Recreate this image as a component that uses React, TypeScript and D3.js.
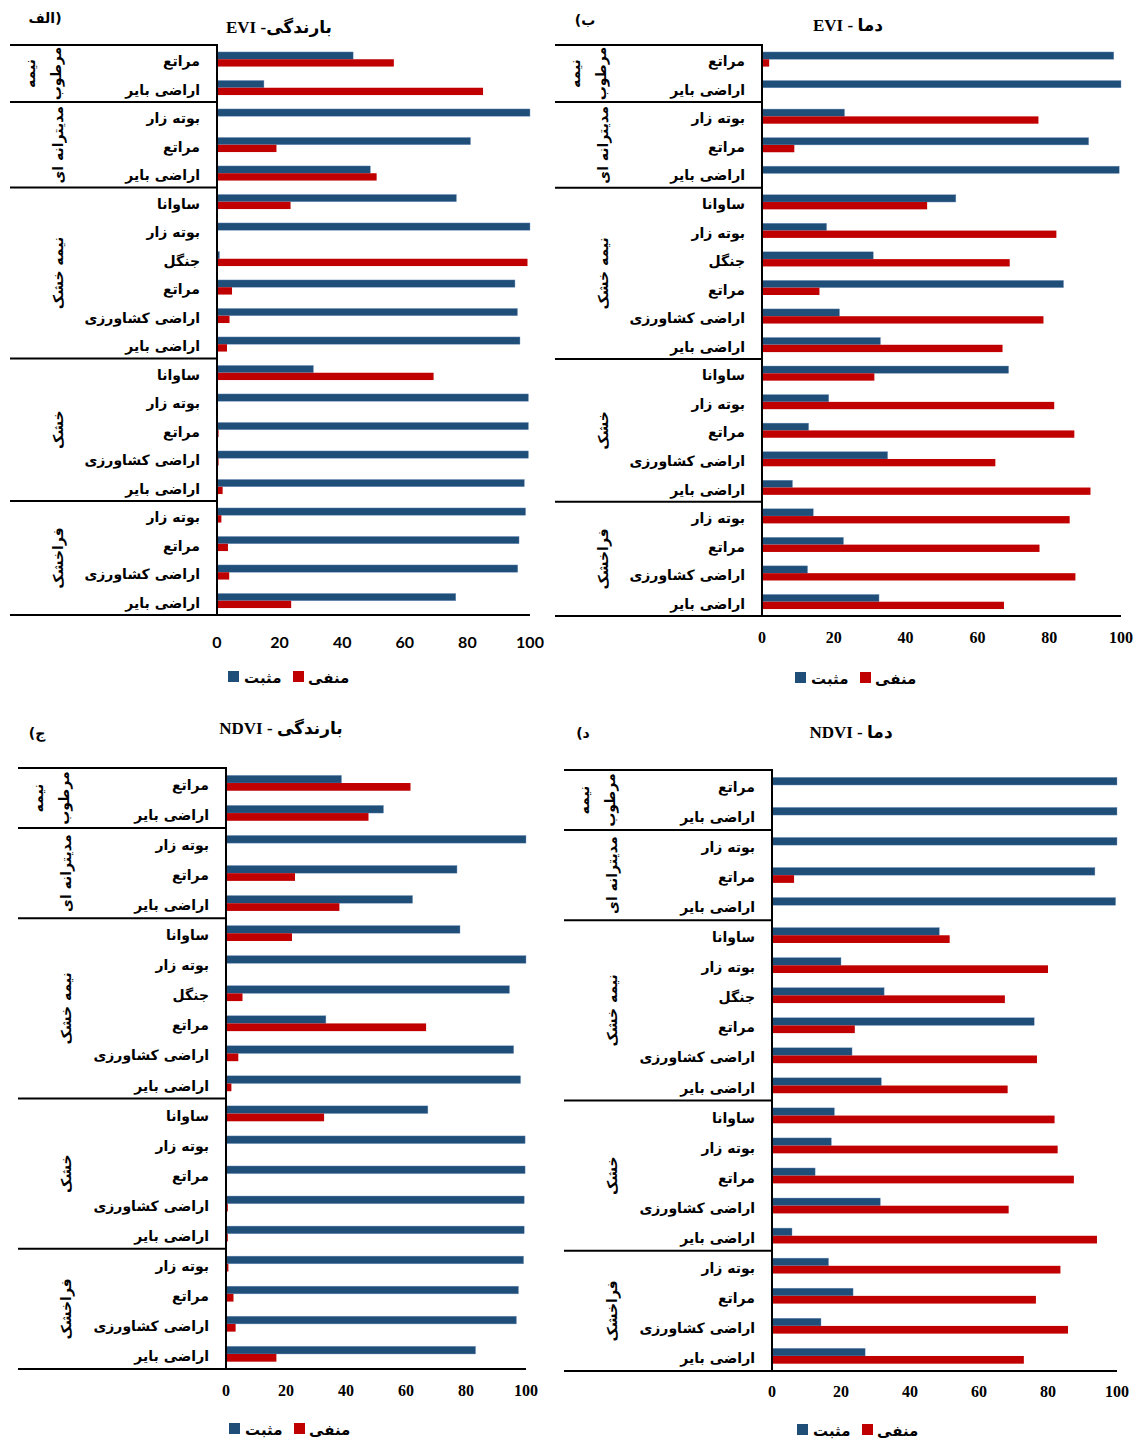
import React from 'react';
import * as d3 from 'd3';

const rowLabels = ['مراتع', 'اراضی بایر', 'بوته زار', 'مراتع', 'اراضی بایر', 'ساوانا', 'بوته زار', 'جنگل', 'مراتع', 'اراضی کشاورزی', 'اراضی بایر', 'ساوانا', 'بوته زار', 'مراتع', 'اراضی کشاورزی', 'اراضی بایر', 'بوته زار', 'مراتع', 'اراضی کشاورزی', 'اراضی بایر'];
const groupLines = [['نیمه', 'مرطوب'], ['مدیترانه ای'], ['نیمه خشک'], ['خشک'], ['فراخشک']];
const groupSizes = [2, 3, 6, 5, 4];
const xTicks = [0, 20, 40, 60, 80, 100];
const legendLabels = ['مثبت', 'منفی'];

const evRainPos = [43.5, 15, 100, 81, 49, 76.5, 100, 0.8, 95.2, 96, 96.8, 30.8, 99.5, 99.5, 99.5, 98.2, 98.6, 96.5, 96.1, 76.3];
const evRainNeg = [56.5, 85, 0, 19, 51, 23.5, 0, 99.2, 4.8, 4, 3.2, 69.2, 0, 0.5, 0.5, 1.8, 1.4, 3.5, 3.9, 23.7];
const evTempPos = [98, 100, 23, 91, 99.5, 54, 18, 31, 84, 21.6, 33, 68.7, 18.6, 13, 35, 8.5, 14.3, 22.7, 12.7, 32.6];
const evTempNeg = [2, 0, 77, 9, 0, 46, 82, 69, 16, 78.4, 67, 31.3, 81.4, 87, 65, 91.5, 85.7, 77.3, 87.3, 67.4];
const ndRainPos = [38.5, 52.5, 100, 77, 62.2, 78, 100, 94.5, 33.3, 95.9, 98.2, 67.3, 99.7, 99.7, 99.4, 99.4, 99.2, 97.5, 96.8, 83.2];
const ndRainNeg = [61.5, 47.5, 0, 23, 37.8, 22, 0, 5.5, 66.7, 4.1, 1.8, 32.7, 0.3, 0.3, 0.6, 0.6, 0.8, 2.5, 3.2, 16.8];
const ndTempPos = [100, 100, 100, 93.6, 99.6, 48.5, 20, 32.5, 76, 23.2, 31.7, 18.1, 17.2, 12.5, 31.4, 5.8, 16.4, 23.5, 14.2, 27];
const ndTempNeg = [0, 0, 0, 6.4, 0, 51.5, 80, 67.5, 24, 76.8, 68.3, 81.9, 82.8, 87.5, 68.6, 94.2, 83.6, 76.5, 85.8, 73];

const BLUE = '#1F4E79';
const RED = '#C00000';
const FA = "'DejaVu Sans', sans-serif";
const SERIF = "'Liberation Serif', 'DejaVu Sans', serif";

type PanelCfg = {
  pos: number[]; neg: number[];
  title: string; tag: string;
  left: number; x0: number; x100: number; top: number; bottom: number;
  titleX: number; titleY: number; tagX: number; tagY: number;
  tickY: number; tickFont: string; legendY: number; legendCX: number;
};

function Panel({ c }: { c: PanelCfg }) {
  const x = d3.scaleLinear().domain([0, 100]).range([c.x0, c.x100]);
  const y = d3.scaleBand<number>().domain(d3.range(rowLabels.length)).range([c.top, c.bottom]);
  const inner = d3.scaleBand<string>().domain(['pos', 'neg']).range([0, y.bandwidth()]).paddingOuter(0.95);
  const step = y.bandwidth();
  const bounds: number[] = [0];
  groupSizes.forEach((s, i) => bounds.push(bounds[i] + s));
  return (
    <g>
      <text x={c.tagX} y={c.tagY} fontFamily={FA} fontWeight="bold" fontSize={14} textAnchor="middle" dominantBaseline="central">{c.tag}</text>
      <text x={c.titleX} y={c.titleY} fontFamily={SERIF} fontWeight="bold" fontSize={17} textAnchor="middle" dominantBaseline="central">{c.title}</text>
      {rowLabels.map((_, i) => (
        <g key={i}>
          <rect x={x(0)} y={(y(i) as number) + (inner('pos') as number)} width={Math.max(0, x(c.pos[i]) - x(0))} height={inner.bandwidth()} fill={BLUE} stroke="#7f9cc4" strokeWidth={0.4} />
          <rect x={x(0)} y={(y(i) as number) + (inner('neg') as number)} width={Math.max(0, x(c.neg[i]) - x(0))} height={inner.bandwidth()} fill={RED} />
          <text x={c.x0 - 17} y={(y(i) as number) + step / 2 + 2} fontFamily={FA} fontWeight="bold" fontSize={14} textAnchor="end" dominantBaseline="central">{rowLabels[i]}</text>
        </g>
      ))}
      {bounds.slice(0, -1).map((b, gi) => {
        const yTop = c.top + b * step;
        const yBot = c.top + bounds[gi + 1] * step;
        const cy = (yTop + yBot) / 2;
        const lines = groupLines[gi];
        return (
          <g key={'g' + gi}>
            <line x1={c.left} x2={c.x0} y1={yTop} y2={yTop} stroke="#000" strokeWidth={2} />
            {lines.length === 2 ? (
              <>
                <text transform={`translate(${c.left + 20},${cy}) rotate(-90)`} fontFamily={FA} fontWeight="bold" fontSize={14} textAnchor="middle" dominantBaseline="central">{lines[0]}</text>
                <text transform={`translate(${c.left + 46},${cy}) rotate(-90)`} fontFamily={FA} fontWeight="bold" fontSize={14} textAnchor="middle" dominantBaseline="central">{lines[1]}</text>
              </>
            ) : (
              <text transform={`translate(${c.left + 48},${cy}) rotate(-90)`} fontFamily={FA} fontWeight="bold" fontSize={14} textAnchor="middle" dominantBaseline="central">{lines[0]}</text>
            )}
          </g>
        );
      })}
      <line x1={c.left} x2={c.x100} y1={c.bottom} y2={c.bottom} stroke="#000" strokeWidth={2} />
      <line x1={c.x0} x2={c.x0} y1={c.top - 1} y2={c.bottom + 1} stroke="#000" strokeWidth={2} />
      {xTicks.map(t => (
        <text key={t} x={x(t)} y={c.tickY} fontFamily={c.tickFont} fontWeight="bold" fontSize={16} textAnchor="middle" dominantBaseline="central">{t}</text>
      ))}
      <g>
        <rect x={c.legendCX - 58} y={c.legendY - 7} width={11} height={11} fill={BLUE} />
        <text x={c.legendCX - 42} y={c.legendY} fontFamily={FA} fontWeight="bold" fontSize={15} textAnchor="start" dominantBaseline="central">{legendLabels[0]}</text>
        <rect x={c.legendCX + 7} y={c.legendY - 7} width={11} height={11} fill={RED} />
        <text x={c.legendCX + 22} y={c.legendY} fontFamily={FA} fontWeight="bold" fontSize={15} textAnchor="start" dominantBaseline="central">{legendLabels[1]}</text>
      </g>
    </g>
  );
}

const panels: PanelCfg[] = [
  { pos: evRainPos, neg: evRainNeg, title: 'EVI -بارندگی', tag: 'الف)', left: 10, x0: 217, x100: 530, top: 45, bottom: 615, titleX: 279, titleY: 27, tagX: 45, tagY: 18, tickY: 641, tickFont: "Lato, 'Open Sans', sans-serif", legendY: 678, legendCX: 286 },
  { pos: evTempPos, neg: evTempNeg, title: 'EVI - دما', tag: '(ب', left: 555, x0: 762, x100: 1121, top: 45, bottom: 616, titleX: 848, titleY: 25, tagX: 585, tagY: 20, tickY: 637, tickFont: SERIF, legendY: 679, legendCX: 853 },
  { pos: ndRainPos, neg: ndRainNeg, title: 'NDVI - بارندگی', tag: '(ج', left: 18, x0: 226, x100: 526, top: 768, bottom: 1369, titleX: 281, titleY: 728, tagX: 37, tagY: 733, tickY: 1390, tickFont: SERIF, legendY: 1430, legendCX: 287 },
  { pos: ndTempPos, neg: ndTempNeg, title: 'NDVI - دما', tag: '(د', left: 564, x0: 772, x100: 1117, top: 770, bottom: 1371, titleX: 851, titleY: 732, tagX: 583, tagY: 733, tickY: 1391, tickFont: SERIF, legendY: 1431, legendCX: 855 },
];

export default function App() {
  return (
    <svg width={1137} height={1444} style={{ position: 'absolute', left: 0, top: 0, background: '#fff' }}>
      <rect width={1137} height={1444} fill="#fff" />
      {panels.map((p, i) => <Panel key={i} c={p} />)}
    </svg>
  );
}
